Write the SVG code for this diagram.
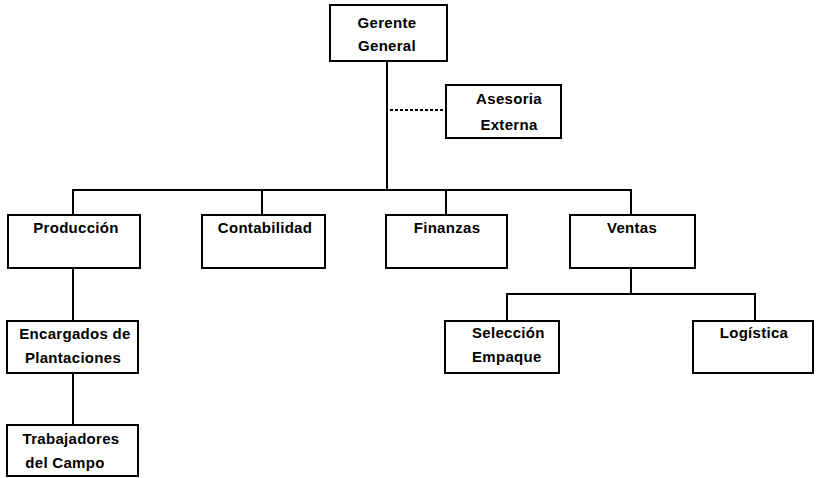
<svg xmlns="http://www.w3.org/2000/svg" width="816" height="478" viewBox="0 0 816 478">
<style>
.box{fill:#fff;stroke:#000;stroke-width:2}
.ln{fill:none;stroke:#000;stroke-width:2}
.dash{fill:none;stroke:#000;stroke-width:2;stroke-dasharray:3 2}
text{font-family:"Liberation Sans",Arial,sans-serif;font-weight:bold;font-size:15px;fill:#000;text-anchor:middle;letter-spacing:0.3px}
</style>
<rect width="816" height="478" fill="#fff"/>
<g id="connectors">
<path class="ln" d="M387 61V190"/>
<path class="dash" d="M390 110H446"/>
<path class="ln" d="M73 215V190H631V215"/>
<path class="ln" d="M262 190V215"/>
<path class="ln" d="M446 190V215"/>
<path class="ln" d="M73 268V321"/>
<path class="ln" d="M73 373V425"/>
<path class="ln" d="M631 268V294"/>
<path class="ln" d="M507 321V294H755V321"/>
</g>
<g id="gerente"><rect class="box" x="330" y="5" width="117" height="56"/><text x="387" y="28">Gerente</text><text x="387" y="51">General</text></g>
<g id="asesoria"><rect class="box" x="446" y="85" width="115" height="53"/><text x="509" y="104">Asesoria</text><text x="509" y="130">Externa</text></g>
<g id="produccion"><rect class="box" x="8" y="215" width="132" height="53"/><text x="76" y="233">Producción</text></g>
<g id="contabilidad"><rect class="box" x="202" y="215" width="123" height="53"/><text x="265" y="233">Contabilidad</text></g>
<g id="finanzas"><rect class="box" x="386" y="215" width="121" height="53"/><text x="447" y="233">Finanzas</text></g>
<g id="ventas"><rect class="box" x="570" y="215" width="125" height="53"/><text x="632" y="233">Ventas</text></g>
<g id="encargados"><rect class="box" x="7" y="321" width="131" height="52"/><text x="75" y="339">Encargados de</text><text x="73" y="363">Plantaciones</text></g>
<g id="trabajadores"><rect class="box" x="7" y="425" width="131" height="51"/><text x="71" y="444">Trabajadores</text><text x="65" y="468">del Campo</text></g>
<g id="seleccion"><rect class="box" x="445" y="321" width="114" height="52"/><text x="472" y="338" style="text-anchor:start">Selección</text><text x="472" y="362" style="text-anchor:start">Empaque</text></g>
<g id="logistica"><rect class="box" x="693" y="321" width="120" height="52"/><text x="754" y="338">Logística</text></g>
</svg>
